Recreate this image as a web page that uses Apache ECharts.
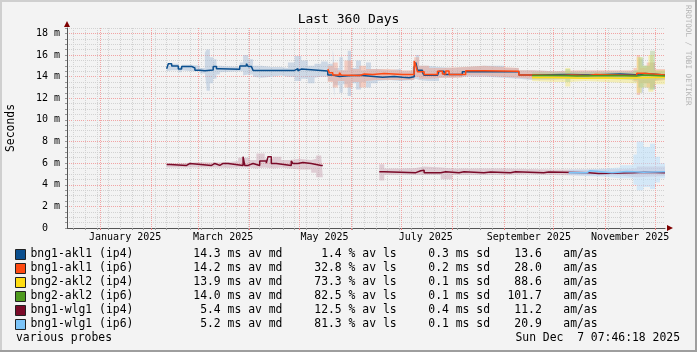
<!DOCTYPE html>
<html><head><meta charset="utf-8">
<script src="https://cdn.jsdelivr.net/npm/echarts@6/dist/echarts.min.js"></script>
<style>html,body{margin:0;padding:0;background:#f3f3f3}#c{width:697px;height:352px}</style>
</head><body><div id="c"></div>
<script>
// ---------------- data ----------------
const seriesNames = ['bng1-akl1 (ip4)','bng1-akl1 (ip6)','bng2-akl2 (ip4)','bng2-akl2 (ip6)','bng1-wlg1 (ip4)','bng1-wlg1 (ip6)'];
const avgMedian = [14.3, 14.2, 13.9, 14.0, 5.4, 5.2];
const avgLoss   = [1.4, 32.8, 73.3, 82.5, 12.5, 81.3];
const stdDev    = [0.3, 0.2, 0.1, 0.1, 0.4, 0.1];
const amAs      = [13.6, 28.0, 88.6, 101.7, 11.2, 20.9];
const monthLabelDates = ['2025-01-16','2025-03-16','2025-05-16','2025-07-16','2025-09-16','2025-11-16'];
const monthLabels = ['January 2025','March 2025','May 2025','July 2025','September 2025','November 2025'];
const yTickLabels = {0:'0  ',2:'2 m',4:'4 m',6:'6 m',8:'8 m',10:'10 m',12:'12 m',14:'14 m',16:'16 m',18:'18 m'};

// medians [date, ms]
const medAkl1v4 = [['2025-02-10',14.74],['2025-02-11',15.2],['2025-02-13',14.98],['2025-02-17',14.7],['2025-02-19',14.95],['2025-02-25',14.8],['2025-02-27',14.6],['2025-03-02',14.55],['2025-03-05',14.62],['2025-03-10',14.95],['2025-03-12',14.72],['2025-03-14',14.68],['2025-03-26',14.98],['2025-03-30',15.2],['2025-03-31',14.95],['2025-04-02',14.8],['2025-04-03',14.58],['2025-04-28',14.75],['2025-04-30',14.55],['2025-05-01',14.7],['2025-05-02',14.52],['2025-05-18',14.15],['2025-05-21',14.02],['2025-05-25',14.08],['2025-05-30',14.12],['2025-06-06',13.95],['2025-06-20',14.02],['2025-06-27',13.95],['2025-07-02',13.9],['2025-07-06',14.0],['2025-07-09',14.9],['2025-07-10',15.3],['2025-07-11',14.6],['2025-07-14',14.4],['2025-07-15',14.12],['2025-07-23',14.3],['2025-07-24',14.5],['2025-07-27',14.2],['2025-08-07',14.45],['2025-09-10',14.15],['2025-09-18',14.2],['2025-10-10',14.15],['2025-10-25',14.25],['2025-11-10',14.15],['2025-11-22',14.3],['2025-11-25',14.15],['2025-12-07',14.15]];
const medAkl1v6 = [['2025-05-18',14.7],['2025-05-19',14.35],['2025-05-21',14.15],['2025-05-25',14.37],['2025-05-26',14.15],['2025-05-27',14.1],['2025-06-06',14.25],['2025-06-09',14.2],['2025-06-14',14.3],['2025-06-21',14.2],['2025-07-02',14.2],['2025-07-09',15.45],['2025-07-10',15.0],['2025-07-11',14.45],['2025-07-15',14.2],['2025-07-23',14.5],['2025-07-26',14.25],['2025-07-28',14.52],['2025-07-30',14.2],['2025-08-09',14.55],['2025-08-20',14.5],['2025-09-10',14.15],['2025-09-18',14.1],['2025-10-05',14.15],['2025-10-12',14.1],['2025-10-22',14.2],['2025-10-26',14.1],['2025-11-20',14.32],['2025-11-24',14.15],['2025-12-07',14.15]];
const medAkl2v4 = [['2025-09-18',13.93],['2025-10-01',13.9],['2025-10-10',13.85],['2025-10-20',13.9],['2025-11-01',13.85],['2025-11-10',13.9],['2025-11-20',13.95],['2025-12-07',13.9]];
const medAkl2v6 = [['2025-09-18',14.1],['2025-10-05',14.05],['2025-10-15',14.1],['2025-11-05',14.05],['2025-11-20',14.15],['2025-11-24',14.05],['2025-12-07',14.08]];
const medWlg1v4 = [['2025-02-10',5.88],['2025-02-12',5.79],['2025-02-22',5.97],['2025-02-24',5.79],['2025-03-09',5.97],['2025-03-11',5.79],['2025-03-14',5.97],['2025-03-16',5.79],['2025-03-17',5.97],['2025-03-19',5.79],['2025-03-28',6.6],['2025-03-29',5.79],['2025-03-31',5.97],['2025-04-03',5.79],['2025-04-07',6.2],['2025-04-11',6.0],['2025-04-12',6.6],['2025-04-14',5.97],['2025-04-17',5.79],['2025-04-26',6.2],['2025-04-27',5.97],['2025-04-30',6.05],['2025-05-03',5.97],['2025-05-08',5.79],['2025-05-14',5.79],['2025-05-15',null],
  ['2025-06-18',5.2],['2025-06-21',5.12],['2025-07-10',5.3],['2025-07-13',5.12],['2025-07-14',5.35],['2025-07-15',5.12],['2025-07-25',5.2],['2025-07-28',5.12],['2025-08-05',5.2],['2025-08-08',5.12],['2025-08-20',5.18],['2025-08-24',5.12],['2025-09-05',5.2],['2025-09-08',5.12],['2025-09-25',5.18],['2025-09-28',5.12],['2025-10-22',5.05],['2025-10-28',5.12],['2025-11-18',5.15],['2025-11-25',5.12],['2025-12-07',5.12]];
const medWlg1v6 = [['2025-10-10',5.12],['2025-10-21',5.3],['2025-10-23',5.12],['2025-11-05',5.22],['2025-11-14',5.15],['2025-11-24',5.2],['2025-12-07',5.2]];

// smoke ranges [date, low, high]
const smokeAkl1v4 = [['2025-02-10',14.5,15.0],['2025-02-13',14.6,15.2],['2025-02-17',14.4,14.9],['2025-02-19',14.6,15.1],['2025-02-25',14.5,15.0],['2025-03-02',14.3,14.8],['2025-03-05',13.0,16.2],['2025-03-06',12.7,16.5],['2025-03-08',13.4,15.8],['2025-03-10',13.8,15.6],['2025-03-12',14.2,15.0],['2025-03-14',14.4,14.9],['2025-03-26',14.5,15.3],['2025-03-28',14.1,16.0],['2025-03-31',14.2,15.6],['2025-04-03',14.0,15.0],['2025-04-08',13.9,14.9],['2025-04-14',14.0,14.9],['2025-04-20',14.1,14.8],['2025-04-24',14.0,15.3],['2025-04-28',13.6,15.9],['2025-05-02',13.8,15.5],['2025-05-06',13.4,15.0],['2025-05-10',13.9,15.2],['2025-05-14',14.0,15.4],['2025-05-18',13.6,15.2],['2025-05-21',12.1,16.6],['2025-05-22',13.2,14.8],['2025-05-25',12.5,15.8],['2025-05-27',13.3,14.6],['2025-05-30',12.2,16.4],['2025-06-01',13.4,14.8],['2025-06-04',12.8,15.5],['2025-06-07',13.5,14.6],['2025-06-10',13.0,15.3],['2025-06-13',13.4,14.7],['2025-06-17',13.6,14.6],['2025-06-24',13.7,14.7],['2025-07-01',13.6,14.5],['2025-07-08',13.7,14.9],['2025-07-10',13.8,16.0],['2025-07-12',13.7,15.0],['2025-07-17',13.6,14.9],['2025-07-24',13.9,14.8],['2025-08-01',13.9,14.9],['2025-08-10',14.0,15.0],['2025-08-20',14.0,15.0],['2025-09-01',13.9,14.8],['2025-09-10',13.8,14.6],['2025-09-18',13.7,14.5],['2025-10-01',13.7,14.5],['2025-10-15',13.8,14.5],['2025-11-01',13.8,14.5],['2025-11-18',13.5,14.6],['2025-11-21',12.5,15.6],['2025-11-24',13.0,15.0],['2025-11-27',12.8,15.3],['2025-12-01',13.6,14.6],['2025-12-07',13.7,14.5]];
const smokeAkl1v6 = [['2025-05-18',13.5,15.0],['2025-05-21',13.0,15.3],['2025-05-24',13.6,14.6],['2025-05-28',13.0,15.5],['2025-06-02',13.5,14.7],['2025-06-06',13.0,15.0],['2025-06-10',13.6,14.7],['2025-06-16',13.7,14.7],['2025-06-24',13.7,14.6],['2025-07-02',13.7,14.6],['2025-07-09',14.0,15.8],['2025-07-12',13.8,15.0],['2025-07-18',13.8,14.8],['2025-07-26',13.9,14.9],['2025-08-07',14.1,15.0],['2025-08-20',14.1,14.9],['2025-09-01',14.0,14.8],['2025-09-10',13.9,14.6],['2025-09-18',13.8,14.5],['2025-10-01',13.8,14.6],['2025-10-15',13.8,14.6],['2025-11-01',13.8,14.6],['2025-11-18',13.6,14.8],['2025-11-20',12.3,16.0],['2025-11-22',13.4,14.8],['2025-11-26',13.0,15.3],['2025-12-01',13.6,14.7],['2025-12-07',13.7,14.5]];
const smokeAkl2v4 = [['2025-09-18',13.6,14.2],['2025-10-01',13.5,14.2],['2025-10-08',13.1,14.8],['2025-10-11',13.5,14.2],['2025-10-20',13.6,14.2],['2025-11-01',13.5,14.2],['2025-11-18',13.4,14.4],['2025-11-20',12.5,15.8],['2025-11-23',13.0,15.0],['2025-11-27',12.6,16.0],['2025-11-30',13.3,14.6],['2025-12-07',13.5,14.3]];
const smokeAkl2v6 = [['2025-09-18',13.8,14.4],['2025-10-01',13.8,14.4],['2025-10-08',13.5,14.7],['2025-10-11',13.8,14.4],['2025-11-01',13.8,14.4],['2025-11-18',13.7,14.6],['2025-11-21',13.0,15.8],['2025-11-24',13.4,15.0],['2025-11-28',12.8,16.4],['2025-12-01',13.7,14.5],['2025-12-07',13.8,14.4]];
const smokeWlg1v4 = [['2025-02-10',5.6,6.0],['2025-02-20',5.6,6.1],['2025-03-01',5.6,6.05],['2025-03-10',5.6,6.1],['2025-03-20',5.55,6.2],['2025-03-25',5.6,6.5],['2025-04-01',5.6,6.3],['2025-04-05',5.5,6.9],['2025-04-10',5.6,6.4],['2025-04-15',5.5,6.6],['2025-04-20',5.6,6.3],['2025-04-25',5.5,6.4],['2025-05-01',5.4,6.3],['2025-05-08',5.1,6.4],['2025-05-11',4.7,6.7],['2025-05-14',4.7,6.7],['2025-05-15',null,null],
  ['2025-06-18',4.4,5.9],['2025-06-21',4.9,5.5],['2025-07-01',4.9,5.55],['2025-07-10',4.9,5.7],['2025-07-15',4.9,5.6],['2025-07-25',4.5,5.5],['2025-08-01',4.9,5.5],['2025-09-01',4.9,5.45],['2025-09-15',4.95,5.4],['2025-10-01',4.9,5.4],['2025-10-20',4.85,5.45],['2025-11-10',4.85,5.5],['2025-11-20',4.7,5.7],['2025-12-07',4.8,5.5]];
const smokeWlg1v6 = [['2025-10-10',4.9,5.4],['2025-10-20',4.8,5.5],['2025-11-01',4.75,5.6],['2025-11-10',4.6,5.8],['2025-11-18',4.0,6.8],['2025-11-20',3.5,8.0],['2025-11-24',3.8,7.5],['2025-11-28',3.6,7.8],['2025-12-01',4.2,6.6],['2025-12-04',4.6,6.0],['2025-12-07',4.8,5.6]];

// ---------------- styling ----------------
const lineColors  = ['#0b4f8e','#ff4a12','#ffdd12','#4e9a1e','#7a0a28','#7cc4f8'];
const smokeColors = ['rgba(160,185,212,0.45)','rgba(245,160,135,0.45)','rgba(245,230,110,0.45)','rgba(170,205,140,0.45)','rgba(200,160,175,0.45)','rgba(185,222,250,0.55)'];
const MONO = 'DejaVu Sans Mono';
const medians = [medAkl1v4, medAkl1v6, medAkl2v4, medAkl2v6, medWlg1v4, medWlg1v6];
const smokes  = [smokeAkl1v4, smokeAkl1v6, smokeAkl2v4, smokeAkl2v6, smokeWlg1v4, smokeWlg1v6];

function ts(s){ const p = s.split('-').map(Number); return new Date(p[0], p[1]-1, p[2]).getTime(); }
const dayCats = [];
for (let t = Date.UTC(2024,11,12); t <= Date.UTC(2025,11,7); t += 86400000) dayCats.push(new Date(t).toISOString().slice(0,10));
const dow = s => new Date(s + 'T00:00:00Z').getUTCDay();
const isMonthStart = s => s.slice(8) === '01';
const isWeekLine = s => dow(s) === 1 && !isMonthStart(s);

const series = [];
smokes.forEach((sm, i) => {
  series.push({type:'line', name:'_lo'+i, stack:'s'+i, step:'end', symbol:'none', silent:true, z:2,
    lineStyle:{opacity:0}, data: sm.map(r => [ts(r[0]), r[1]])});
  series.push({type:'line', name:'_hi'+i, stack:'s'+i, step:'end', symbol:'none', silent:true, z:2,
    lineStyle:{opacity:0}, areaStyle:{color:smokeColors[i], opacity:1},
    data: sm.map(r => [ts(r[0]), r[1] == null ? null : +(r[2]-r[1]).toFixed(3)])});
});
medians.forEach((m, i) => {
  series.push({type:'line', name:seriesNames[i], step:'end', symbol:'none', z:3,
    itemStyle:{color:lineColors[i]}, lineStyle:{color:lineColors[i], width:1.5},
    data: m.map(r => [ts(r[0]), r[1]])});
});

const F = '11.4px "'+MONO+'"';
const graphic = [
  {type:'rect', shape:{x:0,y:0,width:697,height:2}, style:{fill:'#cfcfcf'}, silent:true},
  {type:'rect', shape:{x:0,y:0,width:2,height:352}, style:{fill:'#cfcfcf'}, silent:true},
  {type:'rect', shape:{x:0,y:350,width:697,height:2}, style:{fill:'#9e9e9e'}, silent:true},
  {type:'rect', shape:{x:695,y:0,width:2,height:352}, style:{fill:'#9e9e9e'}, silent:true},
  {type:'polygon', shape:{points:[[64,27],[70,27],[67,21]]}, style:{fill:'#7f0000'}, silent:true, z:10},
  {type:'polygon', shape:{points:[[667,225],[667,231],[673,228]]}, style:{fill:'#7f0000'}, silent:true, z:10},
  {type:'text', x:11, y:128, rotation:Math.PI/2, style:{text:'Seconds', font:F, fill:'#000', align:'center', verticalAlign:'middle'}},
  {type:'text', x:688, y:5, rotation:-Math.PI/2, style:{text:'RRDTOOL / TOBI OETIKER', font:'7.6px "'+MONO+'"', fill:'#b4b4b4', align:'left', verticalAlign:'middle'}},
  {type:'text', x:16, y:338, style:{text:'various probes', font:F, fill:'#000', align:'left', verticalAlign:'middle'}},
  {type:'text', x:680, y:338, style:{text:'Sun Dec  7 07:46:18 2025', font:F, fill:'#000', align:'right', verticalAlign:'middle'}}
];
seriesNames.forEach((n, i) => {
  const y = 254 + 14*i;
  const cols = [
    [193.3, avgMedian[i].toFixed(1).padStart(4) + ' ms av md'],
    [314.3, avgLoss[i].toFixed(1).padStart(4) + ' % av ls'],
    [428.3, stdDev[i].toFixed(1) + ' ms sd'],
    [507.5, amAs[i].toFixed(1).padStart(5)],
    [563.3, 'am/as']
  ];
  cols.forEach(c => graphic.push({type:'text', x:c[0], y:y, style:{text:c[1], font:F, fill:'#000', align:'left', verticalAlign:'middle'}}));
});

const catAxisBase = {type:'category', data:dayCats, boundaryGap:false, position:'bottom', gridIndex:0};
const option = {
  animation:false,
  backgroundColor:'#f3f3f3',
  title:{text:'Last 360 Days', left:'center', top:13, padding:0, textStyle:{fontFamily:MONO, fontSize:13, fontWeight:'normal', color:'#000'}},
  grid:{left:67, top:28, width:598, height:200, containLabel:false},
  legend:{data:seriesNames, orient:'vertical', left:15, top:249, padding:0, itemGap:3, itemWidth:10, itemHeight:10, icon:'rect',
    itemStyle:{borderColor:'#222', borderWidth:1}, selectedMode:false,
    textStyle:{fontFamily:MONO, fontSize:11.4, color:'#000', lineHeight:11, padding:[0,0,0,0]}},
  xAxis:[
    {type:'time', min:ts('2024-12-12'), max:ts('2025-12-07'), show:false},
    Object.assign({}, catAxisBase, {
      axisLine:{show:false}, axisLabel:{show:false},
      axisTick:{show:true, length:2, interval:(i,v)=>isWeekLine(v), lineStyle:{color:'#999'}},
      splitLine:{show:true, interval:(i,v)=>isWeekLine(v), lineStyle:{color:'#d2d2d2', type:[1,1], width:1}}
    }),
    Object.assign({}, catAxisBase, {
      axisLine:{show:true, lineStyle:{color:'#555', width:1}},
      axisTick:{show:true, length:2, interval:(i,v)=>isMonthStart(v), lineStyle:{color:'#e08080'}},
      axisLabel:{show:true, interval:(i,v)=>monthLabelDates.indexOf(v) >= 0, margin:4,
        formatter:v => monthLabels[monthLabelDates.indexOf(v)] || '', fontFamily:MONO, fontSize:10, color:'#000'},
      splitLine:{show:true, interval:(i,v)=>isMonthStart(v), lineStyle:{color:'#f2a4a4', type:[1,1], width:1}}
    })
  ],
  yAxis:{type:'value', min:0, max:18.5, interval:0.5,
    axisLine:{show:true, lineStyle:{color:'#555', width:1}},
    axisTick:{show:true, length:2, lineStyle:{color:'#999'}},
    axisLabel:{margin:7, fontFamily:MONO, fontSize:10, color:'#000',
      formatter:v => (yTickLabels[v] !== undefined ? yTickLabels[v] : '')},
    splitLine:{show:true, lineStyle:{color:['#f2a4a4','#d2d2d2','#d2d2d2','#d2d2d2'], type:[1,1], width:1}}
  },
  series: series,
  graphic: graphic
};
const chart = echarts.init(document.getElementById('c'), null, {renderer:'canvas'});
chart.setOption(option);
</script></body></html>
